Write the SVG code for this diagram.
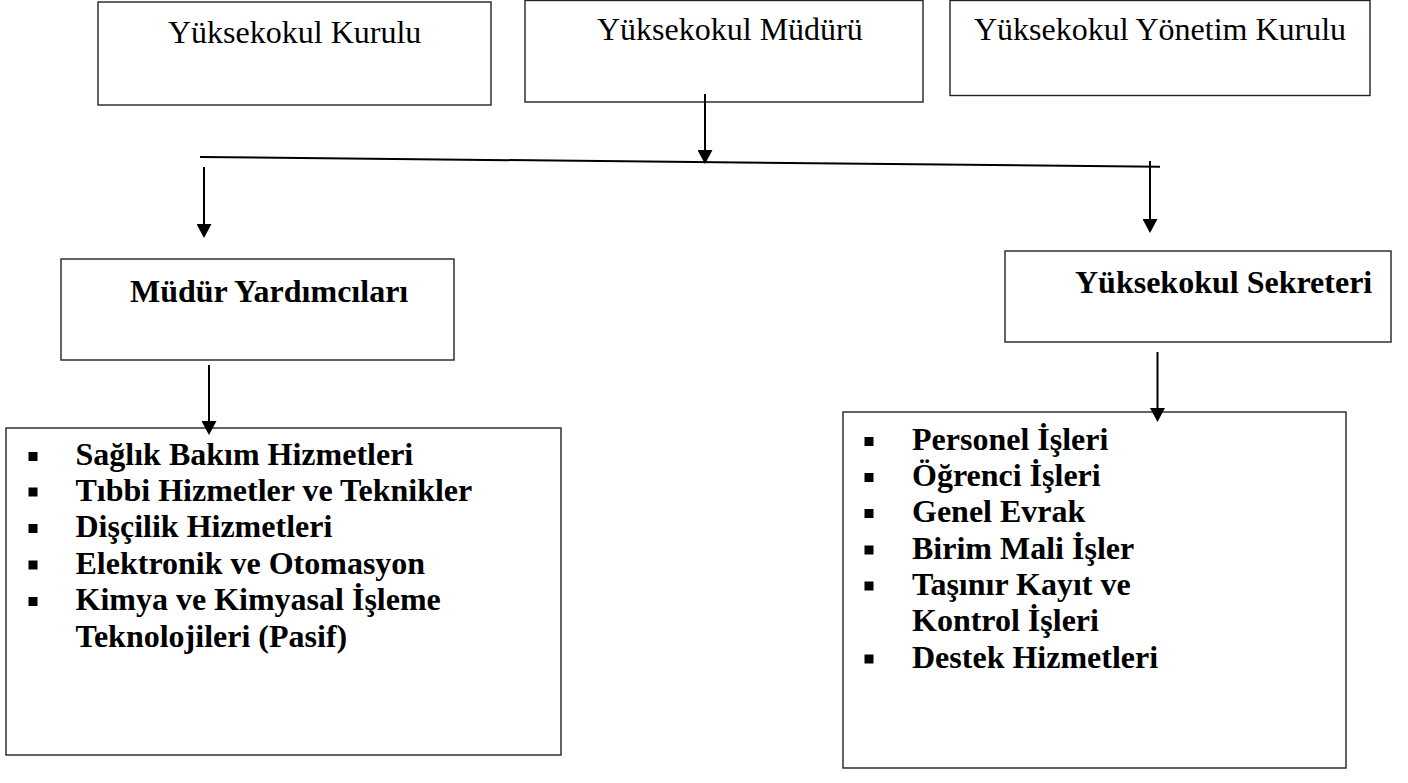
<svg xmlns="http://www.w3.org/2000/svg" width="1408" height="783" viewBox="0 0 1408 783">
<style>
.box{fill:#fff;stroke:#222;stroke-width:1.4}
.t{font-family:"Liberation Serif","Times New Roman",serif;font-size:32px;fill:#000}
.b{font-weight:bold}
.conn{stroke:#000;stroke-width:2;fill:none}
.bul{fill:#000}
</style>
<defs>
<marker id="ah" viewBox="0 0 14 15" refX="4" refY="7.5" markerWidth="14" markerHeight="15" markerUnits="userSpaceOnUse" orient="auto">
<path d="M0,0 L14,7.5 L0,15 z" fill="#000"/>
</marker>
</defs>
<rect width="1408" height="783" fill="#fff"/>
<g id="yuksekokul-kurulu">
<rect class="box" x="98" y="2" width="393" height="103"/>
<text class="t" x="168" y="43">Yüksekokul Kurulu</text>
</g>
<g id="yuksekokul-muduru">
<rect class="box" x="525" y="0.5" width="398" height="101.5"/>
<text class="t" x="597" y="39.5">Yüksekokul Müdürü</text>
</g>
<g id="yuksekokul-yonetim-kurulu">
<rect class="box" x="950" y="0.5" width="420" height="95"/>
<text class="t" x="974" y="39.5">Yüksekokul Yönetim Kurulu</text>
</g>
<g id="mudur-yardimcilari">
<rect class="box" x="61" y="259" width="393" height="101"/>
<text class="t b" x="130" y="301.5">Müdür Yardımcıları</text>
</g>
<g id="yuksekokul-sekreteri">
<rect class="box" x="1005" y="251" width="386" height="91"/>
<text class="t b" x="1075" y="292.5">Yüksekokul Sekreteri</text>
</g>
<g id="programlar">
<rect class="box" x="6" y="428" width="555" height="327"/>
<rect class="bul" x="28.5" y="452" width="9" height="9"/>
<rect class="bul" x="28.5" y="487.5" width="9" height="9"/>
<rect class="bul" x="28.5" y="524" width="9" height="9"/>
<rect class="bul" x="28.5" y="560.5" width="9" height="9"/>
<rect class="bul" x="28.5" y="597" width="9" height="9"/>
<text class="t b" x="75.5" y="465">Sağlık Bakım Hizmetleri</text>
<text class="t b" x="75.5" y="500.5">Tıbbi Hizmetler ve Teknikler</text>
<text class="t b" x="75.5" y="537">Dişçilik Hizmetleri</text>
<text class="t b" x="75.5" y="573.5">Elektronik ve Otomasyon</text>
<text class="t b" x="75.5" y="610">Kimya ve Kimyasal İşleme</text>
<text class="t b" x="75.5" y="647">Teknolojileri (Pasif)</text>
</g>
<g id="birimler">
<rect class="box" x="843" y="412" width="503" height="356"/>
<rect class="bul" x="864.5" y="437" width="9" height="9"/>
<rect class="bul" x="864.5" y="473" width="9" height="9"/>
<rect class="bul" x="864.5" y="509" width="9" height="9"/>
<rect class="bul" x="864.5" y="545.5" width="9" height="9"/>
<rect class="bul" x="864.5" y="581.5" width="9" height="9"/>
<rect class="bul" x="864.5" y="654.5" width="9" height="9"/>
<text class="t b" x="912" y="450">Personel İşleri</text>
<text class="t b" x="912" y="486">Öğrenci İşleri</text>
<text class="t b" x="912" y="522">Genel Evrak</text>
<text class="t b" x="912" y="558.5">Birim Mali İşler</text>
<text class="t b" x="912" y="594.5">Taşınır Kayıt ve</text>
<text class="t b" x="912" y="630.5">Kontrol İşleri</text>
<text class="t b" x="912" y="667.5">Destek Hizmetleri</text>
</g>
<g id="connectors">
<line class="conn" x1="200" y1="157" x2="1160" y2="166.7"/>
<line class="conn" x1="705" y1="94" x2="705" y2="154" marker-end="url(#ah)"/>
<line class="conn" x1="204" y1="167" x2="204" y2="228" marker-end="url(#ah)"/>
<line class="conn" x1="1150" y1="161" x2="1150" y2="223" marker-end="url(#ah)"/>
<line class="conn" x1="209" y1="365" x2="209" y2="425" marker-end="url(#ah)"/>
<line class="conn" x1="1157.5" y1="352" x2="1157.5" y2="412" marker-end="url(#ah)"/>
</g>
</svg>
